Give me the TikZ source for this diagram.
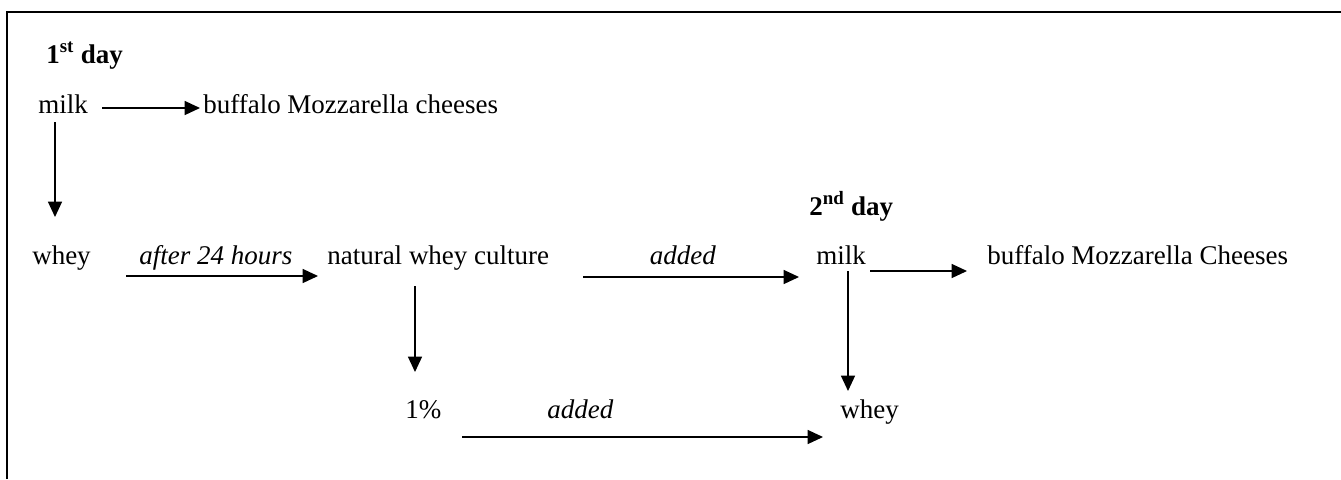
\documentclass[tikz,border=0pt]{standalone}
\usepackage{fontspec}
\setmainfont{Liberation Serif}
\usetikzlibrary{calc,arrows.meta}
\begin{document}
\begin{tikzpicture}[x=0.75pt,y=-0.75pt,
  txt/.style={anchor=base west,inner sep=0pt,font=\fontsize{20.25}{24}\selectfont},
  arr/.style={line width=1pt,-{Triangle[length=11.5pt,width=10.5pt]}},
  frame/.style={line width=1.5pt}]
\useasboundingbox (0,0) rectangle (1341,479);
\draw[frame] (7,479) -- (7,12) -- (1341,12);
% nodes
\node[txt] (day1) at (46,63) {\textbf{1\textsuperscript{st} day}};
\node[txt] (milk1) at (38,113) {milk};
\node[txt] (buf1) at (203,113) {buffalo Mozzarella cheeses};
\node[txt] (whey1) at (32,264) {whey};
\node[txt] (lab24) at (139,264) {\textit{after 24 hours}};
\node[txt] (nwc) at (327,264) {natural whey culture};
\node[txt,anchor=base] (added1) at (683,264) {\textit{added}};
\node[txt] (day2) at (809,215) {\textbf{2\textsuperscript{nd} day}};
\node[txt] (milk2) at (816,264) {milk};
\node[txt] (buf2) at (987,264) {buffalo Mozzarella Cheeses};
\node[txt] (pct) at (405,418) {1\%};
\node[txt] (added2) at (547,418) {\textit{added}};
\node[txt] (whey2) at (840,418) {whey};
% connectors
\draw[arr] ($(milk1.base west)+(64,-5)$) -- ($(buf1.base west)+(-3,-5)$);
\draw[arr] ($(milk1.base west)+(17,9)$) -- ($(whey1.base west)+(23,-47)$);
\draw[arr] ($(whey1.base west)+(94,12)$) -- ($(nwc.base west)+(-9,12)$);
\draw[arr] ($(nwc.base west)+(256,13)$) -- ($(milk2.base west)+(-17,13)$);
\draw[arr] ($(milk2.base west)+(54,7)$) -- ($(buf2.base west)+(-20,7)$);
\draw[arr] ($(milk2.base west)+(32,7)$) -- ($(whey2.base west)+(8,-27)$);
\draw[arr] ($(nwc.base west)+(88,22)$) -- ($(pct.base west)+(10,-46)$);
\draw[arr] ($(pct.base west)+(57,19)$) -- ($(whey2.base west)+(-17,19)$);
\end{tikzpicture}
\end{document}
